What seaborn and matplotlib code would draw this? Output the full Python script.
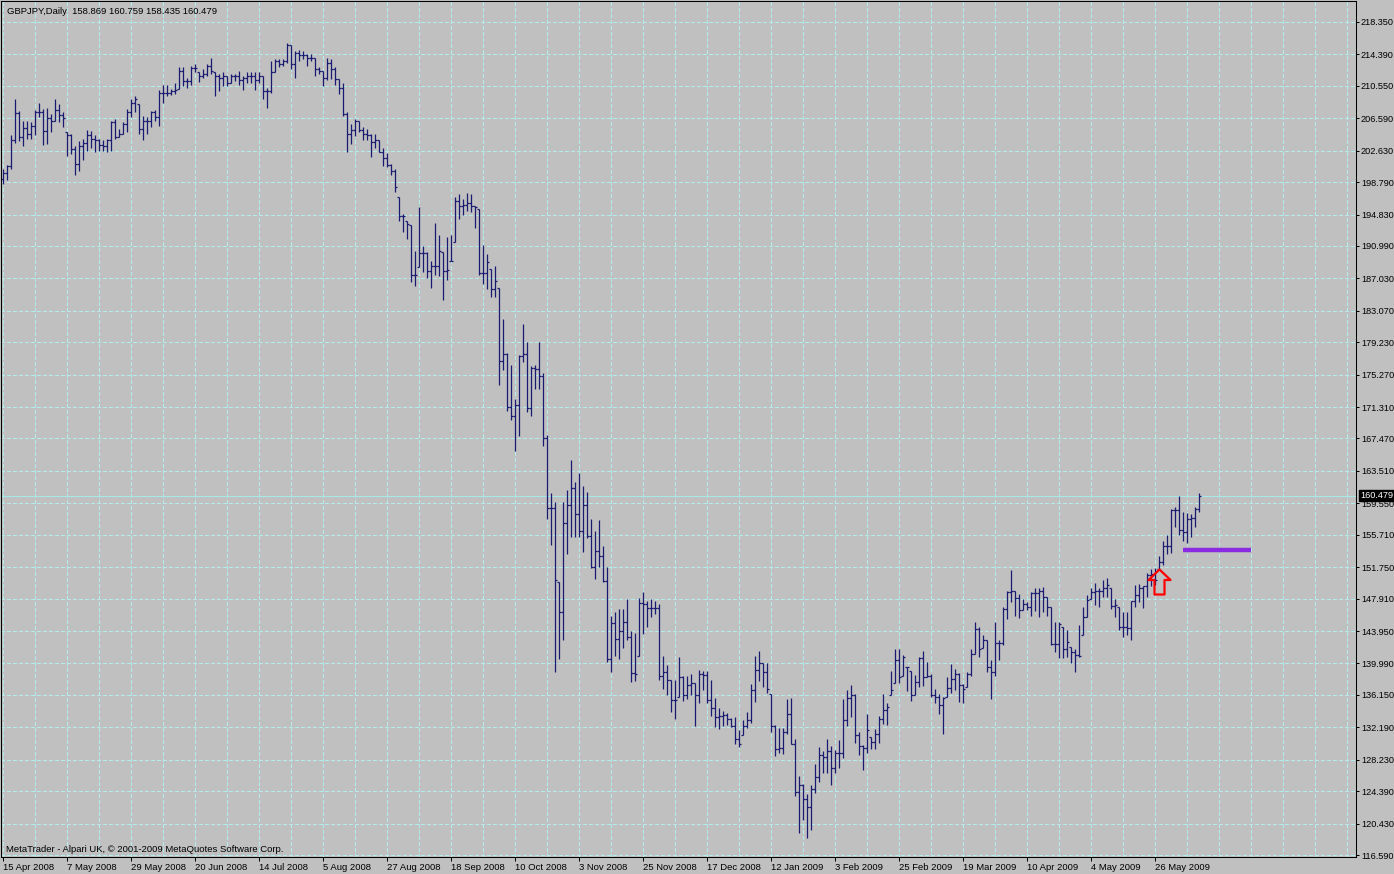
import numpy as np
import pandas as pd
import matplotlib
matplotlib.use("Agg")
import matplotlib.pyplot as plt
import matplotlib.transforms as mtransforms
from matplotlib.path import Path
import seaborn as sns

# GBPJPY daily bars, 15 Apr 2008 .. early Jun 2009
header = "GBPJPY,Daily  158.869 160.759 158.435 160.479"
footer = "MetaTrader - Alpari UK, \u00a9 2001-2009 MetaQuotes Software Corp."

date_labels = ["15 Apr 2008", "7 May 2008", "29 May 2008", "20 Jun 2008", "14 Jul 2008",
               "5 Aug 2008", "27 Aug 2008", "18 Sep 2008", "10 Oct 2008", "3 Nov 2008",
               "25 Nov 2008", "17 Dec 2008", "12 Jan 2009", "3 Feb 2009", "25 Feb 2009",
               "19 Mar 2009", "10 Apr 2009", "4 May 2009", "26 May 2009"]

price_ticks = [218.350, 214.390, 210.550, 206.590, 202.630, 198.790, 194.830, 190.990,
               187.030, 183.070, 179.230, 175.270, 171.310, 167.470, 163.510, 159.550,
               155.710, 151.750, 147.910, 143.950, 139.990, 136.150, 132.190, 128.230,
               124.390, 120.430, 116.590]

highs = [200.4, 200.9, 204.5, 209.0, 207.5, 206.2, 206.2, 206.1, 207.6, 208.5,
         207.7, 207.9, 207.1, 208.9, 208.3, 207.3, 204.9, 204.7, 203.2, 203.8,
         204.1, 205.1, 205.0, 204.5, 204.1, 203.9, 204.1, 206.3, 206.5, 205.3,
         206.1, 207.7, 208.9, 209.3, 208.3, 206.9, 206.7, 207.5, 207.6, 210.1,
         210.7, 210.6, 210.2, 210.9, 212.8, 212.8, 211.5, 213.0, 213.2, 212.2,
         212.6, 213.2, 213.9, 212.2, 212.0, 212.2, 211.8, 212.0, 212.0, 212.4,
         211.8, 212.2, 212.2, 212.2, 212.2, 211.8, 210.3, 213.6, 213.8, 213.8,
         213.8, 215.8, 215.6, 214.8, 214.9, 214.8, 214.5, 214.5, 214.0, 212.8,
         212.4, 213.9, 213.8, 212.8, 211.4, 210.9, 207.4, 205.9, 206.5, 206.3,
         205.5, 205.3, 204.7, 204.7, 203.9, 202.9, 202.4, 201.0, 200.4, 197.0,
         194.9, 194.1, 193.5, 190.4, 195.7, 191.0, 190.2, 189.1, 193.8, 192.3,
         190.2, 192.1, 192.3, 197.0, 197.3, 196.7, 197.5, 197.3, 195.9, 195.5,
         191.1, 190.0, 188.2, 188.6, 185.8, 182.1, 177.9, 176.4, 172.3, 177.7,
         181.4, 179.2, 176.3, 176.5, 179.2, 175.5, 167.9, 160.8, 159.7, 149.9,
         159.7, 161.2, 164.9, 162.2, 163.3, 161.7, 160.9, 157.6, 156.2, 157.5,
         154.3, 151.8, 145.8, 146.3, 146.6, 146.6, 147.9, 144.0, 143.7, 148.0,
         148.7, 147.6, 147.9, 147.6, 147.2, 140.9, 139.8, 138.0, 138.0, 140.8,
         138.5, 138.4, 138.7, 137.6, 139.2, 139.1, 139.1, 138.0, 135.8, 134.6,
         134.2, 133.9, 133.3, 133.4, 131.8, 133.1, 134.0, 137.5, 140.9, 141.5,
         140.1, 140.0, 136.3, 132.5, 132.1, 132.1, 135.7, 135.8, 130.8, 126.2,
         125.3, 124.1, 125.1, 127.7, 129.8, 129.3, 130.8, 129.9, 129.4, 130.6,
         135.6, 136.7, 137.3, 136.3, 131.6, 130.0, 133.8, 131.0, 132.0, 133.6,
         136.3, 135.1, 139.1, 141.7, 141.7, 141.0, 139.6, 139.1, 138.6, 140.8,
         141.5, 140.2, 138.7, 136.9, 136.3, 135.9, 138.3, 139.9, 139.3, 138.8,
         137.5, 138.9, 141.8, 145.0, 144.4, 143.5, 142.9, 140.4, 145.0, 142.8,
         146.9, 148.9, 151.4, 148.9, 148.5, 147.9, 147.5, 148.7, 149.2, 149.2,
         149.3, 148.1, 146.9, 145.1, 145.0, 144.5, 144.1, 142.0, 141.8, 144.7,
         146.9, 148.3, 149.2, 149.8, 149.2, 150.2, 150.4, 149.2, 147.9, 146.9,
         146.3, 146.3, 147.6, 149.6, 149.7, 149.4, 151.0, 151.5, 151.6, 153.1,
         154.9, 155.7, 158.9, 159.1, 160.4, 158.5, 158.4, 158.3, 159.1, 160.759]

lows = [198.5, 199.1, 200.4, 203.6, 203.8, 203.2, 204.1, 204.1, 204.5, 206.7,
        203.3, 203.4, 204.9, 206.3, 206.1, 205.5, 202.0, 202.2, 199.7, 200.2,
        201.5, 202.6, 203.0, 202.5, 202.6, 202.6, 202.5, 202.6, 204.1, 204.3,
        204.7, 204.9, 206.7, 207.3, 204.7, 203.9, 204.7, 205.5, 206.3, 205.7,
        208.5, 209.3, 209.4, 209.5, 210.2, 210.5, 210.3, 210.7, 212.2, 211.0,
        211.5, 211.8, 212.0, 209.3, 209.9, 210.5, 210.5, 210.9, 211.1, 210.7,
        210.1, 210.9, 210.9, 210.1, 210.9, 208.9, 207.9, 209.7, 212.2, 212.8,
        213.0, 213.4, 212.6, 211.5, 213.6, 213.8, 213.0, 213.6, 211.8, 212.0,
        210.5, 211.3, 211.4, 210.7, 209.5, 206.9, 202.5, 203.5, 204.4, 204.9,
        203.9, 203.9, 201.9, 202.9, 202.5, 200.8, 200.6, 199.7, 197.6, 194.1,
        192.7, 191.9, 186.6, 186.1, 188.4, 187.8, 187.1, 185.8, 187.4, 187.3,
        184.4, 186.8, 189.2, 191.5, 194.3, 194.8, 195.3, 195.2, 193.2, 187.5,
        186.4, 185.7, 184.7, 184.7, 174.0, 175.8, 170.8, 169.7, 165.9, 167.8,
        176.8, 170.7, 170.2, 173.5, 173.5, 166.6, 157.6, 154.5, 139.0, 140.5,
        142.8, 153.3, 155.4, 155.4, 155.4, 153.6, 155.3, 151.7, 150.3, 151.8,
        149.9, 140.2, 138.9, 140.9, 140.5, 141.9, 142.9, 137.7, 137.9, 140.9,
        143.6, 144.4, 145.7, 146.0, 138.0, 136.9, 136.1, 134.0, 133.2, 135.9,
        135.4, 135.7, 136.1, 132.3, 135.2, 136.7, 135.2, 133.6, 132.2, 132.0,
        132.3, 132.5, 132.2, 130.2, 129.8, 131.2, 132.1, 132.7, 135.3, 137.9,
        137.1, 136.4, 131.6, 128.7, 129.0, 128.9, 131.4, 130.1, 123.8, 119.3,
        120.9, 118.7, 119.7, 124.2, 125.5, 126.6, 126.6, 125.2, 126.6, 127.2,
        128.5, 132.3, 133.4, 130.3, 128.8, 127.0, 129.0, 129.6, 129.6, 130.3,
        132.6, 132.5, 136.1, 137.6, 137.6, 138.4, 136.6, 135.4, 136.1, 137.1,
        137.2, 138.3, 135.9, 135.1, 133.8, 131.4, 135.9, 136.4, 136.7, 135.3,
        135.1, 137.1, 138.5, 141.1, 140.8, 141.9, 138.9, 135.7, 138.5, 140.4,
        142.2, 145.4, 147.5, 145.8, 145.6, 146.5, 146.5, 145.8, 146.4, 145.7,
        146.3, 145.8, 142.2, 141.4, 140.6, 140.6, 140.8, 140.1, 139.0, 140.8,
        143.5, 145.7, 147.9, 147.1, 146.9, 148.1, 148.1, 146.7, 145.7, 144.1,
        143.2, 143.5, 142.9, 146.9, 147.5, 146.8, 148.1, 149.4, 149.6, 151.5,
        152.0, 153.4, 153.5, 156.7, 155.7, 155.0, 154.7, 155.4, 156.7, 158.435]

opens = [199.2, 199.9, 200.7, 203.9, 207.2, 204.3, 205.4, 204.7, 205.6, 207.4,
         207.4, 205.0, 206.6, 206.3, 207.6, 207.0, 204.9, 204.5, 202.8, 201.0,
         203.2, 203.6, 204.5, 204.1, 203.9, 203.3, 203.2, 203.9, 206.1, 204.3,
         204.7, 205.9, 207.3, 208.5, 208.3, 205.3, 206.3, 206.2, 207.4, 206.7,
         209.7, 209.7, 209.7, 209.9, 210.2, 212.4, 211.2, 211.2, 212.7, 212.2,
         211.8, 212.0, 213.0, 212.2, 211.7, 211.5, 211.7, 210.9, 211.7, 211.7,
         211.3, 211.5, 211.7, 211.7, 211.3, 211.7, 209.9, 209.9, 212.2, 213.6,
         213.2, 213.6, 215.6, 213.2, 214.6, 214.3, 214.3, 213.9, 213.9, 212.6,
         212.4, 211.5, 213.4, 212.6, 211.4, 210.3, 207.1, 204.7, 205.1, 206.3,
         205.1, 204.7, 204.5, 203.7, 203.9, 202.5, 201.7, 200.9, 200.2, 197.0,
         194.7, 194.1, 193.5, 187.5, 188.4, 190.1, 190.1, 187.9, 188.6, 188.5,
         190.2, 187.9, 189.2, 191.5, 196.5, 195.9, 196.0, 196.2, 195.9, 195.5,
         187.7, 187.7, 188.2, 185.7, 185.8, 176.9, 177.8, 171.3, 170.2, 171.6,
         177.6, 177.8, 171.2, 176.1, 175.9, 175.1, 167.5, 159.0, 159.0, 149.9,
         146.3, 157.2, 159.4, 161.4, 158.3, 156.2, 159.3, 155.6, 151.8, 153.7,
         153.1, 150.1, 140.5, 144.9, 143.0, 143.9, 145.1, 143.2, 138.8, 140.9,
         147.4, 147.3, 146.8, 146.8, 146.8, 138.4, 138.9, 138.0, 135.5, 135.9,
         138.3, 136.1, 137.4, 137.6, 136.1, 138.7, 138.6, 135.5, 134.6, 133.4,
         133.6, 133.7, 133.2, 132.3, 130.7, 131.2, 132.3, 133.1, 136.8, 139.2,
         140.0, 138.9, 136.3, 132.3, 129.6, 129.7, 131.6, 133.8, 130.2, 124.3,
         125.2, 123.4, 122.5, 124.7, 126.1, 128.8, 128.6, 129.3, 127.2, 129.0,
         129.0, 133.1, 135.8, 136.1, 131.2, 129.9, 129.7, 131.0, 130.4, 131.4,
         133.2, 134.3, 136.1, 137.6, 140.4, 138.4, 139.6, 139.1, 136.1, 137.7,
         140.6, 138.3, 138.4, 136.1, 135.9, 134.9, 135.9, 137.0, 138.1, 138.7,
         137.3, 137.1, 138.7, 141.1, 144.2, 141.9, 142.8, 139.6, 138.9, 142.5,
         142.5, 146.7, 148.7, 148.8, 148.0, 146.5, 147.3, 146.9, 148.6, 148.6,
         148.8, 148.1, 146.9, 142.4, 142.4, 144.5, 141.8, 142.0, 141.4, 141.0,
         143.5, 145.7, 147.9, 148.7, 148.9, 148.9, 149.2, 149.2, 147.0, 146.9,
         144.4, 144.4, 144.3, 147.6, 148.3, 149.2, 149.4, 150.8, 150.9, 151.5,
         152.4, 154.3, 154.3, 158.7, 158.7, 156.3, 156.1, 157.6, 157.8, 158.869]

closes = [199.9, 200.7, 203.9, 207.2, 204.3, 205.4, 204.7, 205.6, 207.4, 207.4,
          205.0, 206.6, 206.2, 207.6, 207.0, 206.6, 204.5, 202.8, 201.0, 203.2,
          203.6, 204.5, 204.1, 203.9, 203.3, 203.2, 203.9, 206.1, 204.3, 204.7,
          205.9, 207.3, 208.5, 208.9, 205.3, 206.3, 206.2, 207.4, 206.7, 209.7,
          209.7, 209.7, 209.9, 210.0, 212.4, 211.2, 211.2, 212.7, 212.7, 211.8,
          212.0, 213.0, 212.4, 211.7, 211.5, 211.7, 210.9, 211.7, 211.7, 211.3,
          211.5, 211.7, 211.7, 211.3, 211.7, 209.9, 209.9, 212.2, 213.6, 213.2,
          213.6, 215.6, 213.2, 214.6, 214.3, 214.3, 213.9, 213.9, 212.6, 212.4,
          211.5, 213.4, 212.6, 211.4, 210.3, 207.1, 204.7, 205.1, 206.3, 205.1,
          204.7, 204.5, 203.7, 203.9, 202.5, 201.7, 200.9, 200.2, 198.2, 194.7,
          194.7, 193.7, 187.5, 187.5, 190.1, 190.1, 187.9, 188.6, 188.5, 190.4,
          187.9, 188.0, 189.2, 196.5, 195.9, 196.0, 196.2, 195.9, 195.7, 187.7,
          187.7, 189.0, 185.7, 186.7, 176.9, 177.8, 171.3, 170.2, 171.6, 177.6,
          177.8, 171.2, 176.1, 175.9, 175.1, 167.5, 159.0, 159.0, 150.2, 146.3,
          157.2, 159.4, 161.4, 158.3, 156.2, 159.3, 155.6, 151.8, 153.7, 153.1,
          150.1, 140.5, 144.9, 143.0, 143.9, 145.1, 143.2, 138.8, 138.7, 147.4,
          147.3, 146.8, 146.8, 146.8, 138.4, 138.9, 138.0, 135.5, 135.5, 138.3,
          136.1, 137.4, 137.6, 136.1, 138.7, 138.6, 135.5, 134.6, 133.4, 133.6,
          133.7, 133.2, 132.3, 130.7, 130.1, 132.3, 133.1, 136.8, 139.2, 140.0,
          138.9, 136.9, 132.3, 129.6, 129.7, 131.6, 133.8, 130.2, 124.3, 125.2,
          123.4, 122.5, 124.7, 126.1, 128.8, 128.6, 129.3, 127.2, 129.0, 129.0,
          133.1, 135.8, 136.1, 131.2, 129.9, 129.7, 131.8, 130.4, 131.4, 133.2,
          134.3, 134.7, 136.7, 140.4, 138.3, 140.8, 139.5, 136.1, 137.7, 140.6,
          138.3, 138.4, 136.1, 135.9, 134.9, 135.8, 137.0, 138.1, 138.7, 137.3,
          136.9, 138.7, 141.1, 144.2, 141.8, 142.8, 139.6, 138.9, 142.5, 142.5,
          146.7, 148.7, 148.8, 148.0, 146.5, 147.3, 146.9, 148.6, 148.6, 148.8,
          148.1, 146.9, 142.4, 142.4, 144.8, 141.8, 142.6, 141.4, 141.0, 140.9,
          145.7, 147.7, 148.7, 148.9, 148.9, 149.2, 149.6, 147.0, 147.1, 144.4,
          144.4, 144.3, 147.6, 148.3, 149.2, 149.4, 150.8, 150.9, 150.2, 152.4,
          154.3, 154.3, 158.7, 158.7, 156.3, 156.1, 157.6, 157.8, 158.8, 160.479]

last_price = 160.479
level_price = 153.9          # purple level line
level_from, level_to = 295, 312
signal_bar = 289             # bar marked with the red up arrow

df = pd.DataFrame({"bar": np.arange(len(closes)), "open": opens, "high": highs,
                   "low": lows, "close": closes})

bg = "#c0c0c0"
grid_col = "#b4ecec"
bar_col = "#1a1a72"

sns.set_style("ticks", {"axes.facecolor": bg, "figure.facecolor": bg,
                        "axes.edgecolor": "black", "grid.color": grid_col})
plt.rcParams["font.family"] = ["Liberation Sans", "DejaVu Sans"]
plt.rcParams["lines.scale_dashes"] = False

W, H = 1394, 874
fig = plt.figure(figsize=(W / 100, H / 100), dpi=100, facecolor=bg)
ax = fig.add_axes([1 / W, 17 / H, 1355 / W, 856 / H])
ax.set_facecolor(bg)

# axis ranges (bar index / price)
ax.set_xlim(-0.5, 338.25)
ax.set_ylim(116.346, 220.915)

# grid
ax.set_xticks(np.arange(0, 16 * len(date_labels), 16))
ax.set_xticklabels(date_labels, ha="left")
ax.set_xticks(np.arange(0, 339, 8), minor=True)
ax.set_yticks(price_ticks)
ax.set_yticklabels([f"{p:.3f}" for p in price_ticks])
ax.yaxis.tick_right()
grid_kw = dict(color=grid_col, lw=0.75, ls=(0, (2.2, 1.5)), antialiased=False)
ax.grid(True, which="both", axis="x", **grid_kw)
ax.grid(True, which="major", axis="y", **grid_kw)
ax.set_axisbelow(True)
ax.tick_params(axis="x", which="major", direction="out", length=3, width=0.72,
               pad=1.5, labelsize=6.8, colors="black")
ax.tick_params(axis="x", which="minor", length=0)
ax.tick_params(axis="y", direction="out", length=2, width=0.72, pad=1.5,
               labelsize=6.6, colors="black")
for s in ax.spines.values():
    s.set_linewidth(0.75)
    s.set_color("black")
    s.set_visible(True)

# OHLC bars
bar_kw = dict(colors=bar_col, lw=0.9, antialiased=True, capstyle="butt")
ax.vlines(df["bar"], df["low"], df["high"], **bar_kw)
ax.hlines(df["open"], df["bar"] - 0.45, df["bar"], **bar_kw)
ax.hlines(df["close"], df["bar"], df["bar"] + 0.45, **bar_kw)

# current price line and label
ax.axhline(last_price, color="#a6e8e8", lw=0.75, zorder=1)
trans = mtransforms.blended_transform_factory(ax.transAxes, ax.transData)
ax.text(1 + 4 / 1355, last_price, f"{last_price:.3f}", transform=trans, ha="left",
        va="center", fontsize=6.6, color="white", clip_on=False, zorder=10,
        bbox=dict(boxstyle="square,pad=0.12", fc="black", ec="black"))

# purple level
ax.hlines(level_price, level_from, level_to, colors="#8a2be2", lw=3.2, zorder=4)

# red up arrow under the signal bar
arrow = Path([(0, 0), (11, -10.5), (5, -10.5), (5, -25), (-5, -25), (-5, -10.5),
              (-11, -10.5), (0, 0)],
             [Path.MOVETO] + [Path.LINETO] * 6 + [Path.CLOSEPOLY])
ax.plot(signal_bar, lows[signal_bar], marker=arrow, ms=36, mfc="none", mec="red",
        mew=1.6, ls="none", zorder=6)

# texts
ax.text(6 / 1355, 1 - 10 / 856, header, transform=ax.transAxes, ha="left",
        va="center", fontsize=6.8, color="black")
ax.text(5 / 1355, 8 / 856, footer, transform=ax.transAxes, ha="left",
        va="center", fontsize=6.8, color="black")

fig.savefig("out.png", dpi=100, facecolor=bg)
